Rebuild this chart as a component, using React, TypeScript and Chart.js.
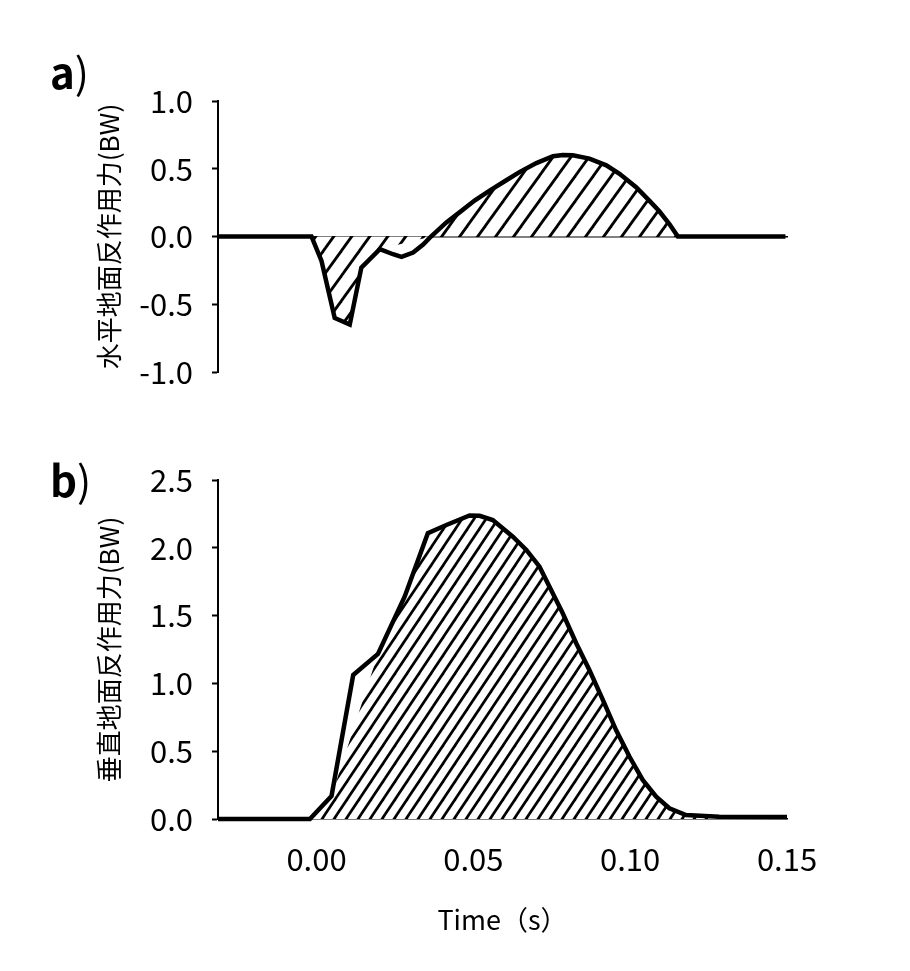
import React, { useEffect, useRef } from 'react';
import { Chart, registerables } from 'chart.js';

Chart.register(...registerables);

// ---------- data ----------
const X_MIN = -0.0314;
const X_MAX = 0.15;
const X_TICKS = [0, 0.05, 0.1, 0.15];

// a) horizontal GRF – outline
const TIME_A = [
  -0.0314, -0.0016, 0.0016, 0.0058, 0.0106, 0.0143, 0.0202, 0.0244, 0.0271, 0.0308, 0.034, 0.0365,
  0.0414, 0.0456, 0.0504, 0.0552, 0.06, 0.0647, 0.0701, 0.0754, 0.0785, 0.0817, 0.087, 0.0924,
  0.0966, 0.1019, 0.1061, 0.1093, 0.1125, 0.1152, 0.1495,
];
const FORCE_A = [
  0, 0, -0.18, -0.601, -0.65, -0.23, -0.094, -0.131, -0.151, -0.119, -0.06, 0,
  0.104, 0.178, 0.265, 0.339, 0.408, 0.475, 0.542, 0.592, 0.601, 0.599, 0.575, 0.525,
  0.463, 0.364, 0.265, 0.186, 0.092, 0, 0,
];
// a) hatched area polygon
const TIME_A_AREA = [
  -0.0016, 0.0016, 0.0058, 0.0106, 0.0143, 0.0202, 0.0365, 0.0552, 0.0647, 0.0754, 0.0817, 0.0924,
  0.1019, 0.1093, 0.1152,
];
const FORCE_A_AREA = [
  0, -0.18, -0.601, -0.65, -0.23, -0.094, 0, 0.339, 0.475, 0.592, 0.599, 0.525,
  0.364, 0.186, 0,
];

// b) vertical GRF – outline
const TIME_B = [
  -0.0314, -0.0021, 0.0048, 0.0117, 0.0196, 0.0281, 0.0355, 0.0414, 0.0488, 0.052, 0.0562, 0.0626,
  0.0669, 0.0711, 0.0748, 0.0785, 0.0828, 0.087, 0.0913, 0.0955, 0.0998, 0.104, 0.1083, 0.1125,
  0.1178, 0.1284, 0.15,
];
const FORCE_B = [
  0, 0, 0.17, 1.062, 1.217, 1.639, 2.107, 2.168, 2.238, 2.236, 2.205, 2.082,
  1.984, 1.861, 1.689, 1.517, 1.296, 1.099, 0.878, 0.656, 0.459, 0.288, 0.164, 0.079,
  0.029, 0.017, 0.015,
];
// b) hatched area polygon
const TIME_B_AREA = [
  -0.0021, 0.0048, 0.0196, 0.0281, 0.0355, 0.0488, 0.0562, 0.0626, 0.0711, 0.0785, 0.087, 0.0955,
  0.104, 0.1083, 0.1125, 0.1178, 0.1284, 0.15,
];
const FORCE_B_AREA = [
  0, 0.17, 1.217, 1.639, 2.107, 2.238, 2.205, 2.082, 1.861, 1.517, 1.099, 0.656,
  0.288, 0.164, 0.079, 0.029, 0.017, 0.015,
];

const Y_TICKS_A = [-1, -0.5, 0, 0.5, 1];
const Y_TICKS_B = [0, 0.5, 1, 1.5, 2, 2.5];

const TITLE_A = '水平地面反作用力(BW)';
const TITLE_B = '垂直地面反作用力(BW)';
const X_TITLE = 'Time（s）';
const LABEL_A = 'a';
const LABEL_B = 'b';

const FONT = "'Noto Sans CJK SC', 'Noto Sans', sans-serif";

function hatch(w: number, h: number, lw: number): CanvasPattern | string {
  const c = document.createElement('canvas');
  c.width = w;
  c.height = h;
  const g = c.getContext('2d');
  if (!g) return '#fff';
  g.fillStyle = '#fff';
  g.fillRect(0, 0, w, h);
  g.strokeStyle = '#000';
  g.lineWidth = lw;
  for (let k = -1; k <= 1; k++) {
    g.beginPath();
    g.moveTo(k * w - w, 2 * h);
    g.lineTo(k * w + 2 * w, -h);
    g.stroke();
  }
  return g.createPattern(c, 'repeat') || '#fff';
}

const pts = (xs: number[], ys: number[]) => xs.map((x, i) => ({ x, y: ys[i] }));

function yAxis(min: number, max: number, ticks: number[], title: string) {
  return {
    type: 'linear',
    min,
    max,
    afterBuildTicks: (s: any) => {
      s.ticks = ticks.map((v) => ({ value: v }));
    },
    afterFit: (s: any) => {
      s.width = 218;
    },
    ticks: {
      color: '#000',
      font: { family: FONT, size: 31 },
      padding: 19,
      callback: (v: any) => Number(v).toFixed(1),
    },
    grid: {
      display: true,
      drawOnChartArea: false,
      drawTicks: true,
      tickLength: 6,
      tickWidth: 2,
      tickColor: '#000',
      color: '#000',
    },
    border: { display: true, color: '#000', width: 2 },
    title: {
      display: true,
      text: title,
      color: '#000',
      font: { family: FONT, size: 26 },
      padding: { top: 94, bottom: 0 },
    },
  };
}

function datasets(t: number[], f: number[], at: number[], af: number[], pattern: any) {
  return [
    {
      data: pts(t, f),
      borderColor: '#000',
      borderWidth: 4.5,
      borderJoinStyle: 'miter',
      pointRadius: 0,
      fill: false,
      tension: 0,
      clip: false,
    },
    {
      data: pts(at, af),
      borderColor: 'rgba(0,0,0,0)',
      borderWidth: 0,
      pointRadius: 0,
      fill: 'origin',
      backgroundColor: pattern,
      tension: 0,
      clip: false,
    },
  ];
}

export default function App() {
  const refA = useRef<HTMLCanvasElement>(null);
  const refB = useRef<HTMLCanvasElement>(null);

  useEffect(() => {
    if (!refA.current || !refB.current) return;
    const patA = hatch(18, 25, 2.8);
    const patB = hatch(12, 18, 2.7);

    const chartA = new Chart(refA.current, {
      type: 'line',
      data: { datasets: datasets(TIME_A, FORCE_A, TIME_A_AREA, FORCE_A_AREA, patA) as any },
      options: {
        responsive: false,
        animation: false,
        events: [],
        layout: { padding: { top: 101, bottom: 48, left: 0, right: 123 } },
        plugins: { legend: { display: false }, tooltip: { enabled: false } },
        scales: {
          x: {
            type: 'linear',
            min: X_MIN,
            max: X_MAX,
            position: { y: 0 },
            afterBuildTicks: (s: any) => {
              s.ticks = X_TICKS.map((v) => ({ value: v }));
            },
            ticks: { display: false },
            grid: { display: false, drawTicks: false },
            border: { display: true, color: '#000', width: 1.5 },
          },
          y: yAxis(-1, 1, Y_TICKS_A, TITLE_A),
        } as any,
      },
    });

    const chartB = new Chart(refB.current, {
      type: 'line',
      data: { datasets: datasets(TIME_B, FORCE_B, TIME_B_AREA, FORCE_B_AREA, patB) as any },
      options: {
        responsive: false,
        animation: false,
        events: [],
        layout: { padding: { top: 60, bottom: 22, left: 0, right: 123 } },
        plugins: { legend: { display: false }, tooltip: { enabled: false } },
        scales: {
          x: {
            type: 'linear',
            min: X_MIN,
            max: X_MAX,
            position: 'bottom',
            afterBuildTicks: (s: any) => {
              s.ticks = X_TICKS.map((v) => ({ value: v }));
            },
            afterFit: (s: any) => {
              s.height = 130;
            },
            ticks: {
              color: '#000',
              font: { family: FONT, size: 31 },
              padding: 22,
              maxRotation: 0,
              autoSkip: false,
              callback: (v: any) => Number(v).toFixed(2),
            },
            grid: { display: false, drawTicks: false, tickLength: 0 },
            border: { display: true, color: '#000', width: 1.5 },
            title: {
              display: true,
              text: X_TITLE,
              color: '#000',
              font: { family: FONT, size: 27 },
              padding: { top: 0, bottom: 13 },
            },
          },
          y: yAxis(0, 2.5, Y_TICKS_B, TITLE_B),
        } as any,
      },
    });

    return () => {
      chartA.destroy();
      chartB.destroy();
    };
  }, []);

  const labelStyle: React.CSSProperties = {
    position: 'absolute',
    left: 50,
    fontFamily: FONT,
    fontSize: 42,
    lineHeight: '42px',
    color: '#000',
    whiteSpace: 'nowrap',
  };

  return (
    <div style={{ position: 'absolute', left: 0, top: 0, width: 910, height: 971, background: '#fff', overflow: 'hidden' }}>
      <canvas ref={refA} width={910} height={420} style={{ position: 'absolute', left: 0, top: 0, width: 910, height: 420 }} />
      <canvas ref={refB} width={910} height={551} style={{ position: 'absolute', left: 0, top: 420, width: 910, height: 551 }} />
      <div style={{ ...labelStyle, top: 50 }}>
        <span style={{ fontWeight: 700 }}>{LABEL_A}</span>
        <span style={{ fontWeight: 400 }}>)</span>
      </div>
      <div style={{ ...labelStyle, top: 458 }}>
        <span style={{ fontWeight: 700 }}>{LABEL_B}</span>
        <span style={{ fontWeight: 400 }}>)</span>
      </div>
    </div>
  );
}
